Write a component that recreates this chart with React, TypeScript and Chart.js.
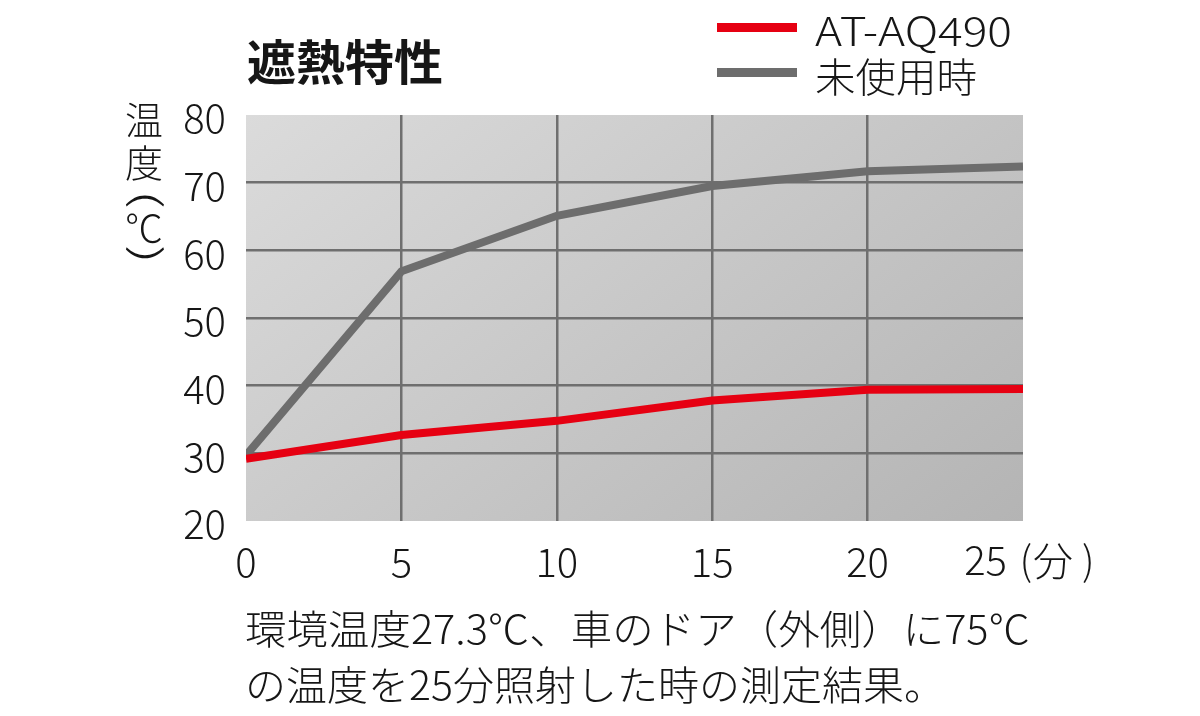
import React, { useEffect, useRef } from "react";
import { Chart, registerables } from "chart.js";

Chart.register(...registerables);

// ---- data ----
const xValues = [0, 5, 10, 15, 20, 25];
const seriesNames = ["AT-AQ490", "未使用時"];
const redValues = [29.2, 32.7, 34.8, 37.8, 39.4, 39.5];
const grayValues = [29.7, 56.9, 65.1, 69.5, 71.7, 72.4];
const xTickLabels = ["0", "5", "10", "15", "20", "25"];
const xUnitParts = ["(", "分", ")"];
const yMin = 20;
const yMax = 80;
const yStep = 10;
const titleText = "遮熱特性";
const yTitleChars = ["温", "度", "(", "℃", ")"];
const noteLines = [
  "環境温度27.3℃、車のドア（外側）に75℃",
  "の温度を25分照射した時の測定結果。",
];

const RED = "#e60012";
const GRAY = "#6d6d6d";
const GRID = "#6f6f6f";
const TEXT = "#161616";
const FONT = '"Noto Sans CJK JP", "Noto Sans", sans-serif';
const LIGHT = "300";

function fitText(
  ctx: CanvasRenderingContext2D,
  text: string,
  left: number,
  cy: number,
  font: string,
  width?: number
) {
  ctx.save();
  ctx.font = font;
  ctx.fillStyle = TEXT;
  ctx.textBaseline = "middle";
  ctx.textAlign = "left";
  const w = ctx.measureText(text).width;
  const s = width ? width / w : 1;
  ctx.translate(left, cy);
  ctx.scale(s, 1);
  ctx.fillText(text, 0, 0);
  ctx.restore();
}

// draw glyph with its ink centred at (cx, cy), optionally rotated
function inkCentered(
  ctx: CanvasRenderingContext2D,
  text: string,
  cx: number,
  cy: number,
  font: string,
  rotate = 0,
  sx = 1
) {
  ctx.save();
  ctx.font = font;
  ctx.fillStyle = TEXT;
  ctx.textAlign = "left";
  ctx.textBaseline = "alphabetic";
  const m = ctx.measureText(text);
  const icx = (m.actualBoundingBoxRight - m.actualBoundingBoxLeft) / 2;
  const icy = (m.actualBoundingBoxDescent - m.actualBoundingBoxAscent) / 2;
  ctx.translate(cx, cy);
  if (rotate) ctx.rotate(rotate);
  ctx.scale(sx, 1);
  ctx.fillText(text, -icx, -icy);
  ctx.restore();
}

const decorPlugin = {
  id: "decor",
  beforeDraw(chart: any) {
    const { ctx, chartArea } = chart;
    const { left, top, right, bottom } = chartArea;
    ctx.save();
    const g = ctx.createLinearGradient(left, top, left + 493, top + 629);
    g.addColorStop(0, "#dbdbdb");
    g.addColorStop(1, "#b4b4b4");
    ctx.fillStyle = g;
    ctx.fillRect(left, top, right - left, bottom - top);
    ctx.restore();
  },
  afterDraw(chart: any) {
    const { ctx } = chart;
    const xs = chart.scales.x;
    // title
    fitText(ctx, titleText, 247, 62, `bold 48px ${FONT}`, 196);
    // legend
    const ds = chart.data.datasets;
    const legendY = [27.5, 72.5];
    ds.forEach((d: any, i: number) => {
      ctx.save();
      ctx.strokeStyle = d.borderColor;
      ctx.lineWidth = 9;
      ctx.beginPath();
      ctx.moveTo(717, legendY[i]);
      ctx.lineTo(797, legendY[i]);
      ctx.stroke();
      ctx.restore();
    });
    fitText(ctx, seriesNames[0], 815, 31, `${LIGHT} 40px ${FONT}`, 197);
    fitText(ctx, seriesNames[1], 815, 77, `${LIGHT} 40px ${FONT}`, 162);
    // y axis title (vertical)
    const cx = 144;
    const ys = [120, 163, 201, 228, 253];
    yTitleChars.forEach((c, i) => {
      if (c === "(" || c === ")") {
        inkCentered(ctx, c, cx, ys[i], `${LIGHT} 38px ${FONT}`, Math.PI / 2, 1.6);
      } else {
        inkCentered(ctx, c, cx, ys[i], `${LIGHT} 38px ${FONT}`);
      }
    });
    // last x label + unit
    const p = xs.getPixelForValue(xValues[xValues.length - 1]);
    ctx.save();
    ctx.font = `${LIGHT} 40px ${FONT}`;
    ctx.fillStyle = TEXT;
    ctx.textBaseline = "middle";
    ctx.textAlign = "right";
    ctx.fillText(xTickLabels[xTickLabels.length - 1], p - 16, 560);
    ctx.restore();
    inkCentered(ctx, xUnitParts[0], p + 4, 562, `${LIGHT} 40px ${FONT}`);
    inkCentered(ctx, xUnitParts[1], p + 30, 561, `${LIGHT} 40px ${FONT}`);
    inkCentered(ctx, xUnitParts[2], p + 64, 562, `${LIGHT} 40px ${FONT}`);
    // notes
    fitText(ctx, noteLines[0], 245, 629, `${LIGHT} 40px ${FONT}`, 785);
    fitText(ctx, noteLines[1], 245, 685, `${LIGHT} 40px ${FONT}`, 700);
  },
};

export default function App() {
  const ref = useRef<HTMLCanvasElement | null>(null);
  useEffect(() => {
    if (!ref.current) return;
    const chart = new Chart(ref.current, {
      type: "line",
      data: {
        datasets: [
          {
            label: seriesNames[0],
            data: xValues.map((x, i) => ({ x, y: redValues[i] })),
            borderColor: RED,
            backgroundColor: RED,
            borderWidth: 8,
            pointRadius: 0,
            tension: 0,
          },
          {
            label: seriesNames[1],
            data: xValues.map((x, i) => ({ x, y: grayValues[i] })),
            borderColor: GRAY,
            backgroundColor: GRAY,
            borderWidth: 8,
            pointRadius: 0,
            tension: 0,
          },
        ],
      },
      options: {
        responsive: false,
        animation: false,
        devicePixelRatio: 1,
        layout: { padding: { left: 0, right: 177, top: 115, bottom: 0 } },
        plugins: {
          legend: { display: false },
          tooltip: { enabled: false },
          title: { display: false },
        },
        scales: {
          x: {
            type: "linear",
            min: xValues[0],
            max: xValues[xValues.length - 1],
            afterFit: (s: any) => {
              s.height = 195;
            },
            border: { display: false },
            grid: {
              drawTicks: false,
              lineWidth: 2.5,
              color: (c: any) =>
                c.tick && (c.tick.value === xValues[0] || c.tick.value === xValues[xValues.length - 1])
                  ? "rgba(0,0,0,0)"
                  : GRID,
            },
            ticks: {
              stepSize: 5,
              padding: 17,
              color: TEXT,
              font: { family: FONT, size: 40, weight: LIGHT as any },
              maxRotation: 0,
              autoSkip: false,
              callback: (v: any) => {
                const i = xValues.indexOf(Number(v));
                if (i < 0 || i === xValues.length - 1) return "";
                return xTickLabels[i];
              },
            },
          },
          y: {
            min: yMin,
            max: yMax,
            afterFit: (s: any) => {
              s.width = 246;
            },
            border: { display: false },
            grid: {
              drawTicks: false,
              lineWidth: 2.5,
              color: (c: any) =>
                c.tick && (c.tick.value === yMin || c.tick.value === yMax) ? "rgba(0,0,0,0)" : GRID,
            },
            ticks: {
              stepSize: yStep,
              padding: 20,
              labelOffset: 3,
              color: TEXT,
              font: { family: FONT, size: 40, weight: LIGHT as any },
            },
          },
        },
      },
      plugins: [decorPlugin],
    });
    return () => chart.destroy();
  }, []);
  return (
    <div style={{ position: "absolute", left: 0, top: 0, width: 1200, height: 716, background: "#fff" }}>
      <canvas ref={ref} width={1200} height={716} style={{ width: 1200, height: 716, display: "block" }} />
    </div>
  );
}
